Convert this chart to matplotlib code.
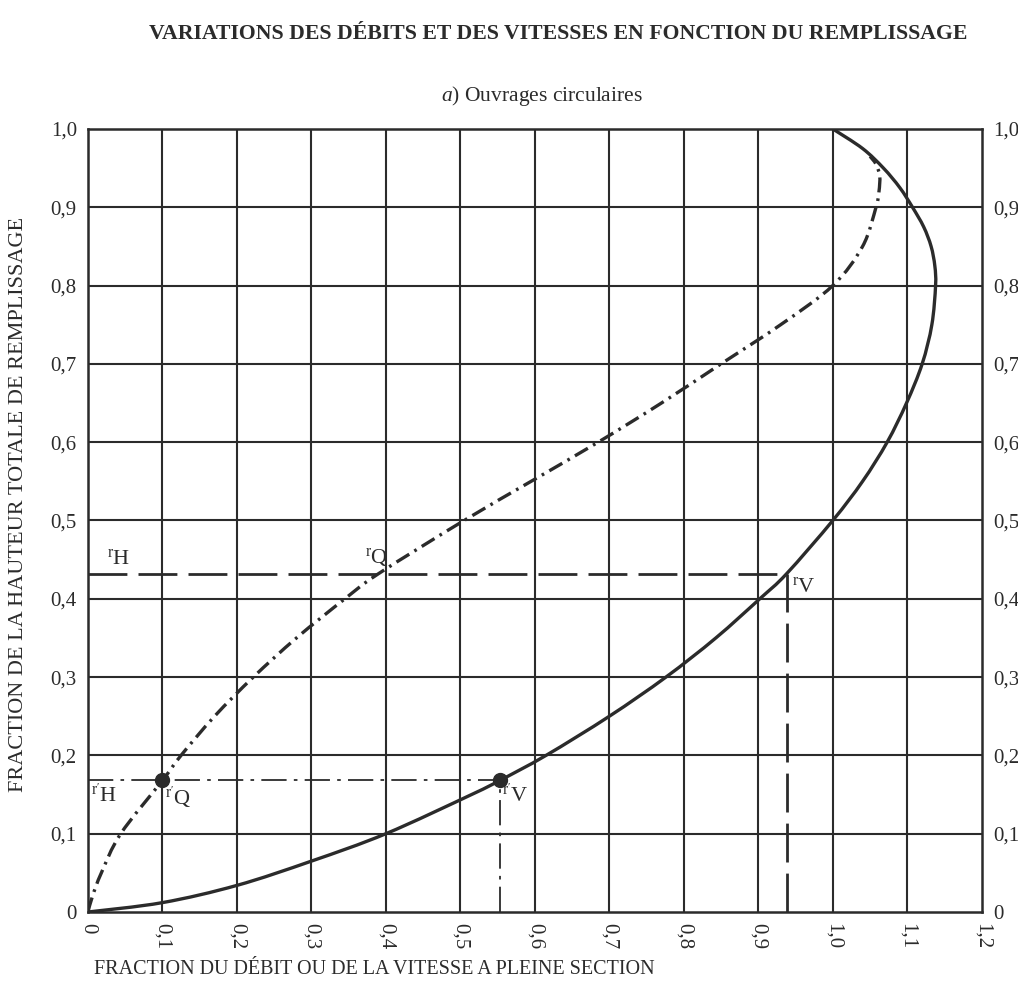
import numpy as np
import matplotlib
matplotlib.use("Agg")
import matplotlib.pyplot as plt
from matplotlib.path import Path
from matplotlib.patches import PathPatch

plt.rcParams['font.family'] = ['Liberation Serif', 'DejaVu Serif']
plt.rcParams['mathtext.fontset'] = 'custom'
plt.rcParams['mathtext.rm'] = 'Liberation Serif'
plt.rcParams['mathtext.it'] = 'Liberation Serif:italic'

# vitesse (trait plein) : hauteur -> fraction de la vitesse
v_h = [0, 0.012, 0.034, 0.065, 0.10, 0.15, 0.168, 0.20, 0.25, 0.30, 0.35, 0.40, 0.432,
       0.50, 0.55, 0.60, 0.65, 0.70, 0.75, 0.80, 0.825, 0.85, 0.875, 0.90, 0.925, 0.95,
       0.975, 1.0]
v_x = [0, 0.10, 0.20, 0.30, 0.40, 0.515, 0.553, 0.615, 0.70, 0.776, 0.843, 0.902, 0.938,
       1.00, 1.04, 1.073, 1.099, 1.12, 1.133, 1.138, 1.137, 1.132, 1.122, 1.107, 1.09, 1.068,
       1.04, 1.0]

# debit (trait mixte)
q_h = [0, 0.02, 0.05, 0.10, 0.168, 0.20, 0.25, 0.30, 0.35, 0.40, 0.432, 0.50, 0.55, 0.60,
       0.65, 0.70, 0.75, 0.80, 0.85, 0.90, 0.92, 0.94, 0.955, 0.965]
q_x = [0, 0.006, 0.018, 0.044, 0.10, 0.125, 0.17, 0.222, 0.28, 0.345, 0.39, 0.505, 0.595,
       0.685, 0.77, 0.85, 0.93, 1.0, 1.04, 1.058, 1.062, 1.063, 1.058, 1.05]

# points d'exemple
r_h, r_q, r_v = 0.432, 0.39, 0.938
rp_h, rp_q, rp_v = 0.168, 0.10, 0.553

x_ticks = [0, 0.1, 0.2, 0.3, 0.4, 0.5, 0.6, 0.7, 0.8, 0.9, 1.0, 1.1, 1.2]
x_labels = ['0', '0,1', '0,2', '0,3', '0,4', '0,5', '0,6', '0,7', '0,8', '0,9', '1,0', '1,1', '1,2']
y_ticks = [0, 0.1, 0.2, 0.3, 0.4, 0.5, 0.6, 0.7, 0.8, 0.9, 1.0]
y_labels = ['0', '0,1', '0,2', '0,3', '0,4', '0,5', '0,6', '0,7', '0,8', '0,9', '1,0']

ink = '#2b2b2b'


def smooth_path(xs, ys):
    # courbe de Bezier passant par les points lus (Catmull-Rom)
    p = np.column_stack([xs, ys]).astype(float)
    verts = [p[0]]
    codes = [Path.MOVETO]
    for i in range(len(p) - 1):
        p0 = p[i - 1] if i > 0 else p[i]
        p3 = p[i + 2] if i + 2 < len(p) else p[i + 1]
        c1 = p[i] + (p[i + 1] - p0) / 6
        c2 = p[i + 1] - (p3 - p[i]) / 6
        verts += [c1, c2, p[i + 1]]
        codes += [Path.CURVE4] * 3
    return Path(verts, codes)


fig = plt.figure(figsize=(10.18, 9.85), dpi=100)
ax = fig.add_axes([0.0864, 0.0741, 0.878, 0.795])
ax.set_xlim(0, 1.2)
ax.set_ylim(0, 1.0)

for x in x_ticks[1:-1]:
    ax.axvline(x, color=ink, lw=1.5, zorder=1)
for y in y_ticks[1:-1]:
    ax.axhline(y, color=ink, lw=1.5, zorder=1)
for s in ax.spines.values():
    s.set_color(ink)
    s.set_linewidth(1.8)

ax.add_patch(PathPatch(smooth_path(v_x, v_h), fill=False, edgecolor=ink, lw=2.4, zorder=3))
ax.add_patch(PathPatch(smooth_path(q_x, q_h), fill=False, edgecolor=ink, lw=2.4,
                       linestyle=(0, (4.5, 1.8, 0.8, 1.8)), zorder=3))

# lignes de lecture
ax.plot([0, r_v], [r_h, r_h], color=ink, lw=2.0, linestyle=(0, (14, 4)), zorder=2)
ax.plot([r_v, r_v], [0, r_h], color=ink, lw=2.0, linestyle=(0, (14, 4)), zorder=2)
ax.plot([0, rp_v], [rp_h, rp_h], color=ink, lw=1.3, linestyle=(0, (14, 4, 2, 4)), zorder=2)
ax.plot([rp_v, rp_v], [0, rp_h], color=ink, lw=1.3, linestyle=(0, (14, 4, 2, 4)), zorder=2)
ax.plot([rp_q, rp_v], [rp_h, rp_h], color=ink, lw=0, marker='o', ms=10, zorder=4)


def rlabel(x, y, lab, va):
    ax.text(x, y, lab, fontsize=16, color=ink, ha='left', va=va, zorder=5)


rlabel(0.025, r_h + 0.006, r'$^{\mathrm{r}}\mathrm{H}$', 'bottom')
rlabel(0.372, r_h + 0.006, r'$^{\mathrm{r}}\mathrm{Q}$', 'bottom')
rlabel(0.945, r_h - 0.004, r'$^{\mathrm{r}}\mathrm{V}$', 'top')
rlabel(0.004, rp_h - 0.006, r"$^{\mathrm{r'}}\mathrm{H}$", 'top')
rlabel(0.103, rp_h - 0.006, r"$^{\mathrm{r'}}\mathrm{Q}$", 'top')
rlabel(0.556, rp_h - 0.006, r"$^{\mathrm{r'}}\mathrm{V}$", 'top')

ax.set_xticks(x_ticks)
ax.set_xticklabels(x_labels, rotation=270, fontsize=15, color=ink)
ax.set_yticks(y_ticks)
ax.set_yticklabels(y_labels, fontsize=15, color=ink)
ax.tick_params(axis='both', length=0, pad=8)
ax.tick_params(axis='y', right=True, labelright=True)

fig.text(0.092, 0.006, 'FRACTION DU DÉBIT OU DE LA VITESSE A PLEINE SECTION',
         fontsize=14.5, color=ink, ha='left', va='bottom')
fig.text(0.018, 0.488, 'FRACTION DE LA HAUTEUR TOTALE DE REMPLISSAGE',
         fontsize=16, color=ink, rotation=90, ha='center', va='center')
fig.text(0.548, 0.965, 'VARIATIONS DES DÉBITS ET DES VITESSES EN FONCTION DU REMPLISSAGE',
         fontsize=15.7, fontweight='bold', color=ink, ha='center', va='center')
fig.text(0.532, 0.903, r'$\mathit{a)}$ Ouvrages circulaires',
         fontsize=15.5, color=ink, ha='center', va='center')

fig.savefig('out.png', dpi=100, facecolor='white')
